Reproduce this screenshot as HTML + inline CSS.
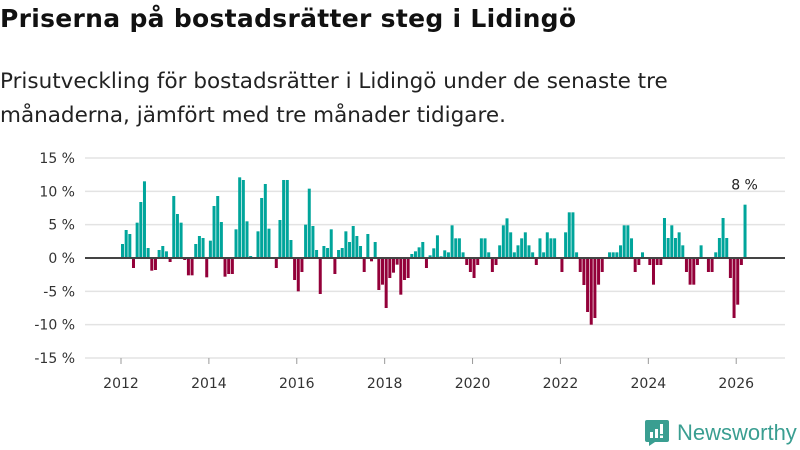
<!DOCTYPE html>
<html><head><meta charset="utf-8"><style>
body{margin:0;width:800px;height:450px;background:#fff;font-family:"Liberation Sans",sans-serif;overflow:hidden;position:relative}
#title{position:absolute;left:0;top:4px;font-family:"DejaVu Sans",sans-serif;font-size:25px;font-weight:bold;color:#111;letter-spacing:0.3px}
#sub{position:absolute;left:0;top:65px;font-family:"DejaVu Sans",sans-serif;font-size:21.5px;line-height:34px;color:#222}
svg{position:absolute;left:0;top:0}
</style></head><body>
<div id="title">Priserna på bostadsrätter steg i Lidingö</div>
<div id="sub">Prisutveckling för bostadsrätter i Lidingö under de senaste tre<br>månaderna, jämfört med tre månader tidigare.</div>
<svg id="chart" width="800" height="450"></svg>
<script>
const startYear = 2012;
const values = [2.1,4.2,3.6,-1.5,5.3,8.4,11.5,1.5,-1.9,-1.8,1.2,1.8,
1,-0.6,9.3,6.6,5.3,-0.3,-2.6,-2.6,2.1,3.3,3.0,-2.9,
2.6,7.8,9.3,5.4,-2.8,-2.4,-2.4,4.3,12.1,11.7,5.5,0.3,
0,4,9,11.1,4.4,0,-1.5,5.7,11.7,11.7,2.7,-3.3,
-5.0,-2.1,5,10.4,4.8,1.2,-5.4,1.8,1.5,4.3,-2.4,1.2,
1.5,4.0,2.4,4.8,3.3,1.8,-2.1,3.6,-0.5,2.4,-4.8,-4.0,
-7.5,-3.0,-2.2,-1.0,-5.5,-3.3,-3.0,0.6,1,1.6,2.4,-1.5,
0.4,1.45,3.4,0.25,1.15,0.85,4.9,2.95,2.95,0.85,-1.05,-2.1,
-3.0,-1.05,2.95,2.95,0.85,-2.1,-1.05,1.9,4.9,5.95,3.85,0.85,
1.9,2.95,3.85,1.9,0.85,-1.05,2.95,0.85,3.85,2.95,2.95,0,
-2.1,3.85,6.85,6.85,0.85,-2.1,-4.05,-8.1,-10,-9,-4,-2.1,
0,0.85,0.85,0.85,1.9,4.9,4.9,2.95,-2.1,-1.05,0.85,0,
-1.05,-4,-1.05,-1.05,6,3,4.9,3,3.85,1.9,-2.1,-4,
-4,-1.05,1.9,0,-2.1,-2.1,0.85,3,6,3,-3,-9,
-7,-1.05,8];
const yTicks = [15,10,5,0,-5,-10,-15];
const xTicks = [2012,2014,2016,2018,2020,2022,2024,2026];
const lastLabel = "8 %";

const svg = document.getElementById('chart');
const NS = 'http://www.w3.org/2000/svg';
const FONT = 'DejaVu Sans, sans-serif';
const y = v => 258 - v * 6.667;
const xi = i => 121 + i * 3.662;
const xYear = yr => xi((yr - startYear) * 12);
function mk(tag, attrs){const e=document.createElementNS(NS,tag);for(const k in attrs)e.setAttribute(k,attrs[k]);svg.appendChild(e);return e;}
yTicks.forEach(t=>{
  const g=mk('line',{x1:85,x2:785,y1:y(t),y2:y(t),stroke:'#e3e3e3','stroke-width':1.5});
  
  
  const l=mk('text',{x:75,y:y(t)+5,'text-anchor':'end','font-size':14,fill:'#333','font-family':FONT});
  l.textContent=t+' %';
  
  
});
xTicks.forEach(t=>{
  const tk=mk('line',{x1:xYear(t),x2:xYear(t),y1:358,y2:364,stroke:'#999','stroke-width':1});
  
  
  const l=mk('text',{x:xYear(t),y:388,'text-anchor':'middle','font-size':14,fill:'#333','font-family':FONT});
  l.textContent=t;
  
  
});
values.forEach((v,i)=>{
  if(!v) return;
  const top=Math.min(y(v),y(0)), h=Math.abs(y(v)-y(0));
  const r=mk('rect',{x:xi(i),y:top,width:3,height:h,fill:v>0?'#00a59b':'#930039'});
  
  
});
const z=mk('line',{x1:85,x2:785,y1:y(0),y2:y(0),stroke:'#444','stroke-width':2});


const li=values.length-1;
const lab=mk('text',{x:xi(li)+1,y:y(values[li])-15,'text-anchor':'middle','font-size':14,fill:'#222','font-family':FONT});
lab.textContent=lastLabel;


</script>
<div style="position:absolute;left:645px;top:420px;height:26px;display:flex;align-items:center">
<svg width="24" height="26" viewBox="0 0 24 26" style="position:static"><path d="M2 0h20a2 2 0 0 1 2 2v18a2 2 0 0 1-2 2H10l-6 4v-4H2a2 2 0 0 1-2-2V2a2 2 0 0 1 2-2z" fill="#3a9e91"/><rect x="5" y="12" width="3" height="6" fill="#fff"/><rect x="10" y="9" width="3" height="9" fill="#fff"/><rect x="15" y="4" width="3" height="10" fill="#fff"/><rect x="15" y="15.5" width="3" height="2.5" fill="#fff"/></svg>
<span style="margin-left:8px;font-size:22px;color:#3a9e91;font-weight:500">Newsworthy</span>
</div>
</body></html>
